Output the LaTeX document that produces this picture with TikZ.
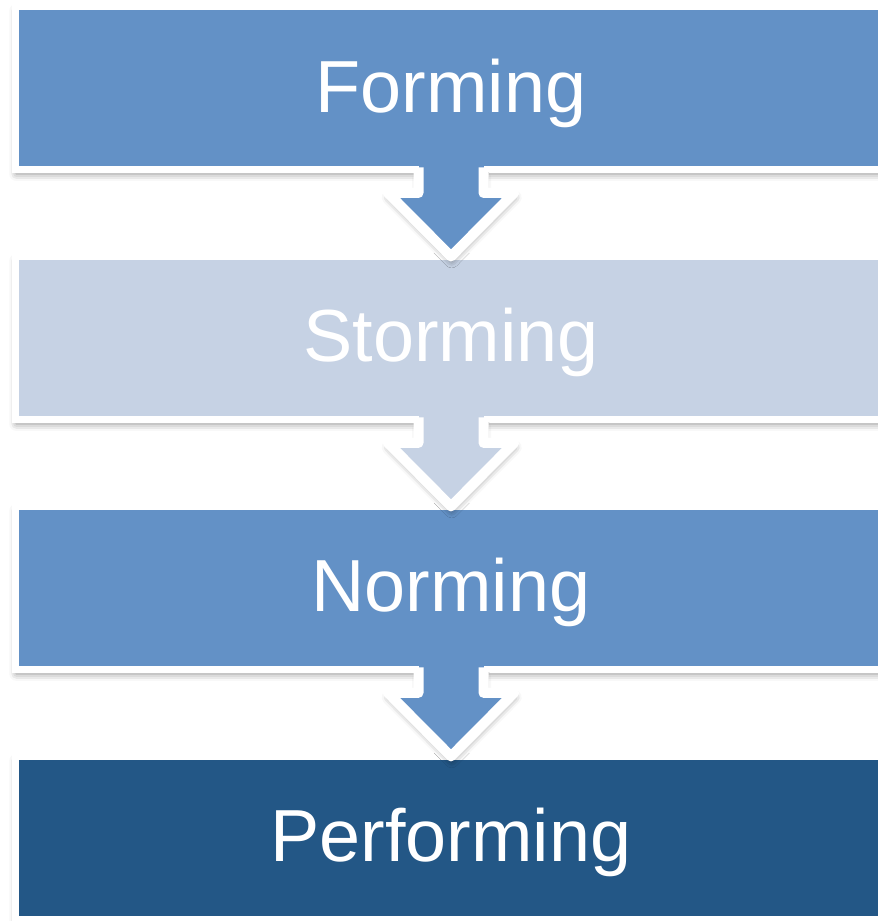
\documentclass[tikz,border=0pt]{standalone}
\usepackage{fontspec}
\setmainfont{Liberation Sans}
\usetikzlibrary{positioning,calc,shadows.blur}

\definecolor{stageblue}{HTML}{6391C6}
\definecolor{stagepale}{HTML}{C6D2E4}
\definecolor{stagedark}{HTML}{235786}

\tikzset{
	softshadow/.style={blur shadow={shadow xshift=0.4pt, shadow yshift=-2.5pt,
			shadow blur radius=4pt, shadow opacity=45}},
	stage/.style={rectangle, draw=white, line width=0.14cm,
		outer sep=0pt, inner sep=0pt,
		minimum width=17.42cm, minimum height=3.26cm,
		text=white, font=\fontsize{42}{50}\selectfont,
		text height=1.08cm, text depth=0.12cm, softshadow},
	flowarrow/.style={draw=white, line width=0.2cm, line join=round}
}

% arrow from stage #1 down to stage #2, filled with #3
\newcommand{\stagearrow}[3]{%
	\fill[#3, softshadow] ($(#1.south)+(-32.5,4)$) -- ++(0,19.5)
	-- ++(-30.5,0) -- (#2.north) -- ($(#1.south)+(63,23.5)$)
	-- ++(-30.5,0) -- ($(#1.south)+(32.5,4)$) -- cycle;
	\fill[#3] ($(#1.south)+(-32.5,-3.5)$) rectangle ($(#1.south)+(32.5,6)$);
	\draw[flowarrow] ($(#1.south)+(-32.5,-2)$) -- ++(0,25.5)
	-- ++(-30.5,0) -- (#2.north) -- ($(#1.south)+(63,23.5)$)
	-- ++(-30.5,0) -- ($(#1.south)+(32.5,-2)$);
}

\begin{document}
\begin{tikzpicture}[x=0.02cm, y=-0.02cm, node distance=1.74cm]
	
	\useasboundingbox (0,0) rectangle (878,921);
	
	% Stages
	\node[stage, fill=stageblue] (forming) at (451,88) {Forming};
	\node[stage, fill=stagepale, below=of forming] (storming) {Storming};
	\node[stage, fill=stageblue, below=of storming] (norming) {Norming};
	\node[stage, fill=stagedark, below=of norming] (performing) {Performing};
	
	% Arrows
	\stagearrow{forming}{storming}{stageblue}
	\stagearrow{storming}{norming}{stagepale}
	\stagearrow{norming}{performing}{stageblue}
	
\end{tikzpicture}
\end{document}
